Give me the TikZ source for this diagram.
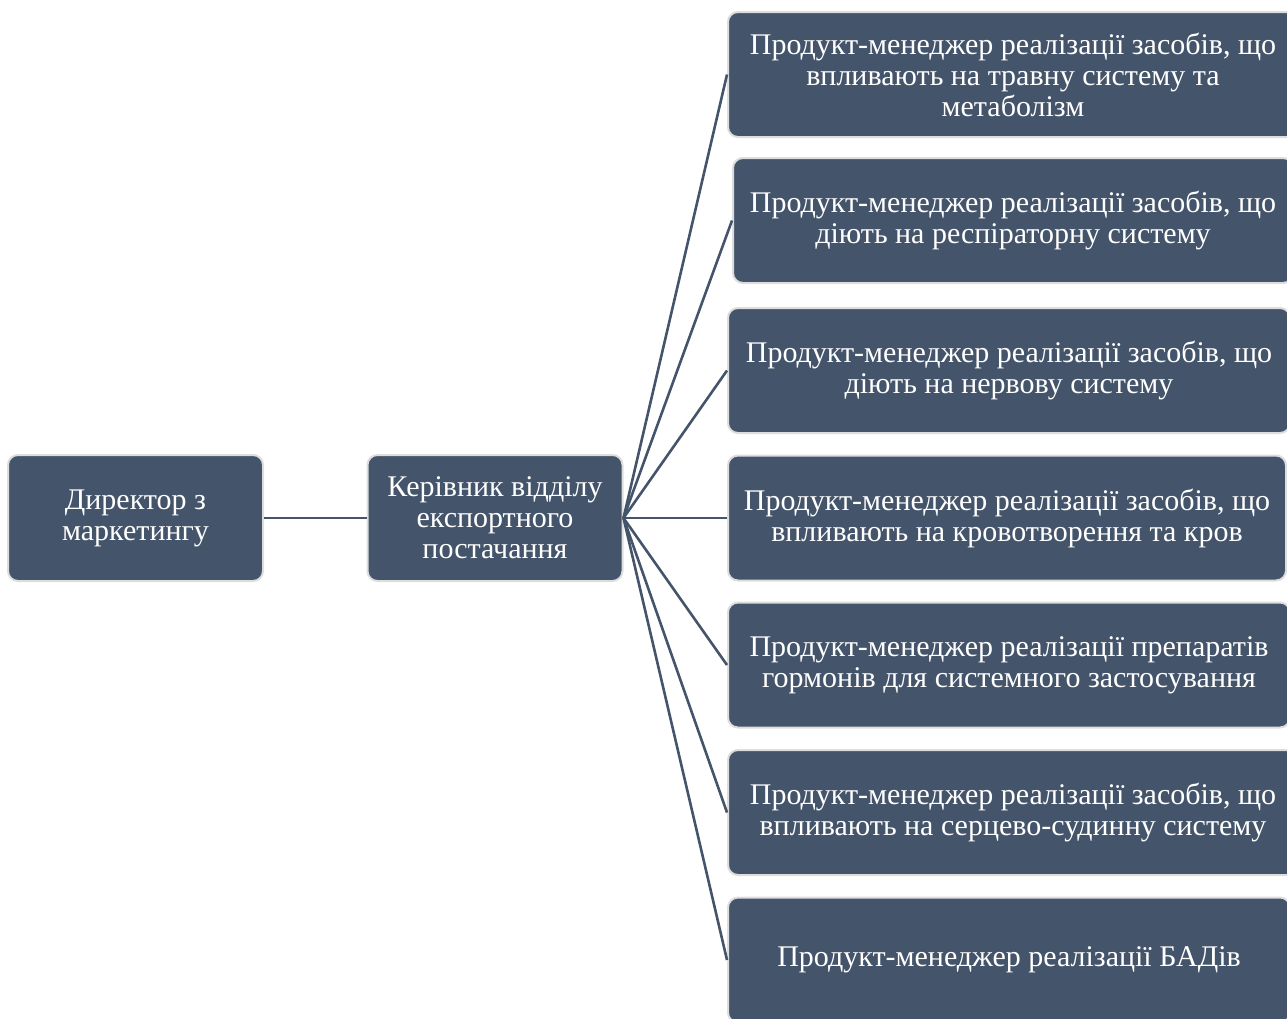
\documentclass[tikz,border=0pt]{standalone}
\usepackage{fontspec}
\setmainfont{Liberation Serif}
\definecolor{boxfill}{HTML}{44546A}
\definecolor{boxedge}{HTML}{DDDDDD}
\begin{document}
\begin{tikzpicture}[x=1pt,y=-1pt,
  orgbox/.style={draw=boxedge, line width=2pt, fill=boxfill, rounded corners=10pt,
    text=white, align=center, inner sep=0pt,
    font=\fontsize{30}{31}\selectfont},
  leftbox/.style={orgbox, minimum width=255pt, minimum height=126pt},
  rightbox/.style={orgbox, minimum width=#1, minimum height=125pt, anchor=west},
  rightbox/.default=570pt,
  link/.style={draw=boxfill, line width=2.6pt}]
\useasboundingbox (0,0) rectangle (1287,1018);
\clip (0,0) rectangle (1287,1018);
\node[leftbox] (dir) at (135.5,518) {Директор з\\маркетингу};
\node[leftbox] (ker) at (495,518) {Керівник відділу\\експортного\\постачання};
\node[rightbox=570pt] (p1) at (727,74.5) {Продукт-менеджер реалізації засобів, що\\впливають на травну систему та\\метаболізм};
\node[rightbox=560pt] (p2) at (732,220.5) {Продукт-менеджер реалізації засобів, що\\діють на респіраторну систему};
\node[rightbox=562pt] (p3) at (727,370.5) {Продукт-менеджер реалізації засобів, що\\діють на нервову систему};
\node[rightbox=558pt] (p4) at (727,518) {Продукт-менеджер реалізації засобів, що\\впливають на кровотворення та кров};
\node[rightbox=562pt] (p5) at (727,665) {Продукт-менеджер реалізації препаратів\\гормонів для системного застосування};
\node[rightbox=570pt] (p6) at (727,812.5) {Продукт-менеджер реалізації засобів, що\\впливають на серцево-судинну систему};
\node[rightbox=562pt] (p7) at (727,960) {Продукт-менеджер реалізації БАДів};
\draw[link] (dir.east) -- (ker.west);
\foreach \n in {p1,p2,p3,p4,p5,p6,p7}
  \draw[link] (ker.east) -- (\n.west);
\end{tikzpicture}
\end{document}
